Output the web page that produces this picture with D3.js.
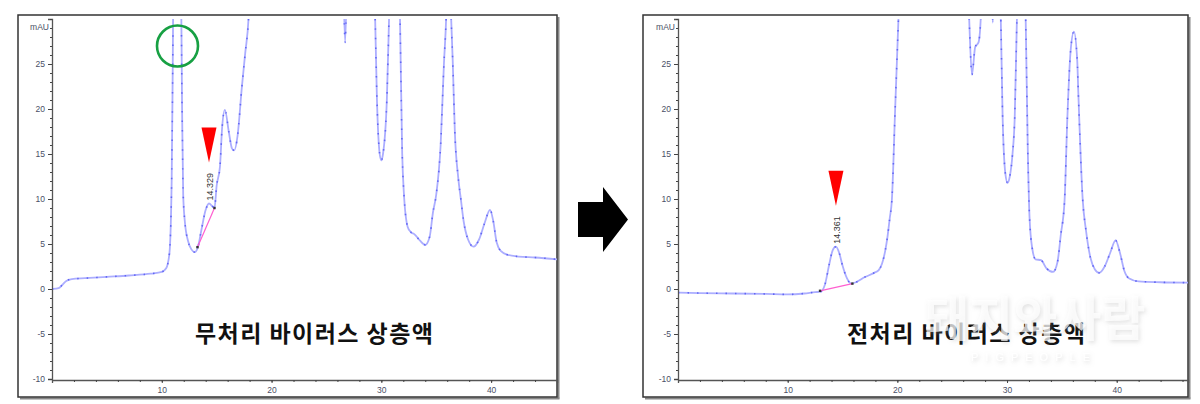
<!DOCTYPE html>
<html><head><meta charset="utf-8">
<script src="https://cdn.jsdelivr.net/npm/d3@7/dist/d3.min.js"></script>
<style>
html,body{margin:0;padding:0;background:#fff;}
svg{display:block;}
</style></head>
<body>
<svg id="chart" width="1200" height="404"></svg>
<script>
// ---------- DATA ----------
const xTicks = [10, 20, 30, 40];
const yTicks = [-10, -5, 0, 5, 10, 15, 20, 25];
const yUnit = "mAU";

// Untreated virus supernatant (left) : [time(min), mAU]
const untreatedT = [0,0.6,0.9,1.3,1.8,3,5,7,9,10,10.4,10.7,10.9,11.0,11.1,11.4,11.7,11.85,11.95,12.1,12.4,12.7,13.0,13.3,13.6,14.0,14.3,14.6,14.8,15.0,15.3,15.5,15.75,16.1,16.4,16.6,16.9,17.3,17.6,17.9,18.2,
  26.4,26.7,27.0,29.2,29.4,29.6,29.85,30.0,30.15,30.5,30.7,30.9,31.5,31.7,31.9,32.05,32.4,32.7,33.0,33.5,34.0,34.4,34.7,35.0,35.4,35.7,35.9,36.1,36.3,36.5,36.7,37.0,37.25,37.5,37.9,38.4,38.9,39.4,39.9,40.2,40.5,40.9,41.5,42.5,44,46];
const untreatedV = [0,0.1,0.4,0.9,1.1,1.2,1.35,1.5,1.7,1.9,2.3,4,12,25,40,45,40,20,10.5,7.5,5.3,4.4,4.1,4.7,6.5,8.8,9.5,9.2,9.0,11.5,13.6,18,19.9,17.5,15.6,15.4,17,22.5,26.2,30,40,
  40,27.4,40,40,32,21,15,14.3,15,21,30,40,40,30,15,10.7,6.9,6.3,6.1,5.4,4.9,5.8,8.5,10.5,16,25,30,40,32,25.4,17.3,12.4,9.9,7.5,5.5,4.7,5.5,7.3,8.8,7.5,5.2,4.2,3.8,3.6,3.5,3.3];

// Pretreated virus supernatant (right)
const pretreatedT = [0,2,5,8,10,11.5,12.5,13.0,13.4,13.8,14.1,14.4,14.7,15.0,15.4,15.8,16.3,17,17.9,18.3,18.6,18.9,19.1,19.3,19.5,19.8,20.1,20.4,
  26.3,26.55,26.8,27.1,27.4,27.6,27.8,28.55,28.7,28.85,29.2,29.4,29.6,29.85,30.05,30.25,30.5,30.7,30.9,31.1,31.5,31.7,31.9,32.05,32.3,32.6,33.1,33.6,34.2,34.6,34.9,35.25,35.5,35.8,36.1,36.4,36.5,36.9,37.2,37.6,38.0,38.4,38.9,39.4,39.9,40.3,40.7,41.1,42,44,46.5];
const pretreatedV = [-0.4,-0.45,-0.5,-0.55,-0.6,-0.5,-0.35,-0.3,0.5,2.8,4.3,4.7,4.0,2.6,1.2,0.6,0.8,1.3,1.8,2.1,2.8,4.3,5.8,7.8,9.9,20,30,40,
  40,30,23.8,26.9,27.4,30,40,36,29.6,36,40,32,19,12.8,11.8,12.5,15,19,30,40,40,30,15,8,4.5,3.3,3.2,2.3,1.9,3,6,9.9,19,26.5,28.6,25.4,21.8,9.9,6.5,3.5,2.2,1.8,2.5,4,5.4,4,2,1.2,0.85,0.75,0.7];

// Integrated peaks: [start t, start v, end t, end v], apex time/value and retention label
const peakBaselineLeft = [13.25, 4.65, 14.8, 9.0];
const peakBaselineRight = [12.95, -0.2, 15.9, 0.6];
const peakApexLeft = [14.3, 9.5];
const peakApexRight = [14.4, 4.7];
const peakLabels = ["14.329", "14.361"];
const panelTitles = ["무처리 바이러스 상층액", "전처리 바이러스 상층액"];
const xMax = [46, 46.5];

// ---------- DRAW ----------
const svg = d3.select("#chart");
const defs = svg.append("defs");
const flt = defs.append("filter").attr("id","wm").attr("x","-20%").attr("y","-40%").attr("width","140%").attr("height","180%");
flt.append("feDropShadow").attr("dx",1.5).attr("dy",2).attr("stdDeviation",2).attr("flood-color","#999").attr("flood-opacity",0.4);

const panels = [
  {fx:18, fy:15, fw:539, fh:382, ax:52, right:557, T:untreatedT, V:untreatedV, base:peakBaselineLeft, apex:peakApexLeft, label:peakLabels[0], title:panelTitles[0], titleX:195, xmax:xMax[0], circle:true},
  {fx:643, fy:15, fw:545, fh:382, ax:678, right:1188, T:pretreatedT, V:pretreatedV, base:peakBaselineRight, apex:peakApexRight, label:peakLabels[1], title:panelTitles[1], titleX:847, xmax:xMax[1], circle:false}
];
const yTop = 19, yBot = 379;
const fmt = d => String(d);

panels.forEach((p, i) => {
  const g = svg.append("g");
  // frame with shadow
  g.append("line").attr("x1",p.fx+p.fw+1.5).attr("x2",p.fx+p.fw+1.5).attr("y1",p.fy+2).attr("y2",p.fy+p.fh+1.5).attr("stroke","#888").attr("stroke-width",2);
  g.append("line").attr("x1",p.fx+2).attr("x2",p.fx+p.fw+2.5).attr("y1",p.fy+p.fh+1.5).attr("y2",p.fy+p.fh+1.5).attr("stroke","#888").attr("stroke-width",2);
  g.append("rect").attr("x",p.fx).attr("y",p.fy).attr("width",p.fw).attr("height",p.fh)
    .attr("fill","#fff").attr("stroke","#333").attr("stroke-width",1.5);

  const x = d3.scaleLinear().domain([0, p.xmax]).range([p.ax, p.right]);
  const y = d3.scaleLinear().domain([-10, 30]).range([yBot, yTop]);

  // y axis
  const yAxis = d3.axisLeft(y).tickValues(yTicks).tickFormat(fmt).tickSize(4).tickPadding(3);
  const ya = g.append("g").attr("transform",`translate(${p.ax},0)`).call(yAxis);
  const yMinor = d3.axisLeft(y).tickValues(d3.range(-10,31,1)).tickSize(2).tickFormat("");
  g.append("g").attr("transform",`translate(${p.ax},0)`).call(yMinor).call(s=>s.select(".domain").remove());
  ya.append("text").attr("x",-3).attr("y",y(29.1)).attr("text-anchor","end").attr("dy","0.32em").text(yUnit);

  // x axis
  const xAxis = d3.axisBottom(x).tickValues(xTicks).tickFormat(fmt).tickSize(3).tickPadding(4);
  g.append("g").attr("transform",`translate(0,${yBot+1})`).call(xAxis);
  const xMinor = d3.axisBottom(x).tickValues(d3.range(2, p.xmax, 2)).tickSize(2).tickFormat("");
  g.append("g").attr("transform",`translate(0,${yBot+1})`).call(xMinor).call(s=>s.select(".domain").remove());

  g.selectAll(".domain").attr("stroke","#555").attr("stroke-width",1.3);
  g.selectAll(".tick line").attr("stroke","#444");
  g.selectAll("text").attr("font-family","Arial, 'Liberation Sans', sans-serif").attr("font-size",8.5).attr("fill","#4a4f66");

  // clip
  const cid = "clip"+i;
  defs.append("clipPath").attr("id",cid).append("rect")
    .attr("x",p.ax+1).attr("y",yTop).attr("width",p.right-p.ax-1).attr("height",yBot-yTop);

  const data = p.T.map((t,k)=>[t,p.V[k]]);
  const line = d3.line().x(d=>x(d[0])).y(d=>y(d[1])).curve(d3.curveMonotoneX);
  const pg = g.append("g").attr("clip-path",`url(#${cid})`);
  pg.append("path").attr("d",line(data)).attr("fill","none").attr("stroke","#acaeff").attr("stroke-width",1.8);
  pg.append("path").attr("d",line(data)).attr("fill","none").attr("stroke","#4a4ff0").attr("stroke-width",1.6)
    .attr("stroke-dasharray","1.5,8").attr("opacity",0.75);

  // integration baseline
  pg.append("line").attr("x1",x(p.base[0])).attr("y1",y(p.base[1])).attr("x2",x(p.base[2])).attr("y2",y(p.base[3]))
    .attr("stroke","#ff5fd0").attr("stroke-width",1.2);
  [[p.base[0],p.base[1]],[p.base[2],p.base[3]]].forEach(d=>{
    pg.append("rect").attr("x",x(d[0])-1.2).attr("y",y(d[1])-1.2).attr("width",2.4).attr("height",2.4).attr("fill","#333");
  });

  // retention label
  const lx = x(p.apex[0]) + 0.5, ly = y(p.apex[1]) - 3;
  g.append("text").attr("transform",`translate(${lx},${ly}) rotate(-90)`)
    .attr("dy","0.35em").attr("font-family","Arial, 'Liberation Sans', sans-serif").attr("font-size",9).attr("fill","#333").text(p.label);

  // red marker
  const tipX = x(p.apex[0]), tipY = y(p.apex[1]) - 41;
  g.append("path").attr("d",`M${tipX-7.5},${tipY-35}L${tipX+7.5},${tipY-35}L${tipX},${tipY}Z`).attr("fill","#ff0000");

  // title
  g.append("text").attr("x",p.titleX).attr("y",342).attr("font-family","'Noto Sans CJK KR', sans-serif")
    .attr("font-weight","bold").attr("font-size",23).attr("textLength",238).attr("lengthAdjust","spacing")
    .attr("fill","#111").text(p.title);

  if (p.circle) {
    g.append("circle").attr("cx",177.5).attr("cy",46).attr("r",20.5).attr("fill","none").attr("stroke","#17a043").attr("stroke-width",2.6);
  }
});

// arrow between panels
svg.append("path").attr("d","M578,202L603,202L603,187L628,219.5L603,252L603,237L578,237Z").attr("fill","#000");

// watermark
const wm = svg.append("g").attr("filter","url(#wm)");
wm.append("text").attr("x",1035).attr("y",336).attr("text-anchor","middle").attr("font-family","'Noto Sans CJK KR', sans-serif")
  .attr("font-weight","bold").attr("font-size",48).attr("fill","#fff").attr("fill-opacity",0.7).text("돼지와사람");
wm.append("text").attr("x",1034).attr("y",361).attr("text-anchor","middle").attr("font-family","Arial, sans-serif")
  .attr("font-size",11).attr("letter-spacing",7).attr("fill","#fff").text("PIGPEOPLE");
</script>
</body></html>
